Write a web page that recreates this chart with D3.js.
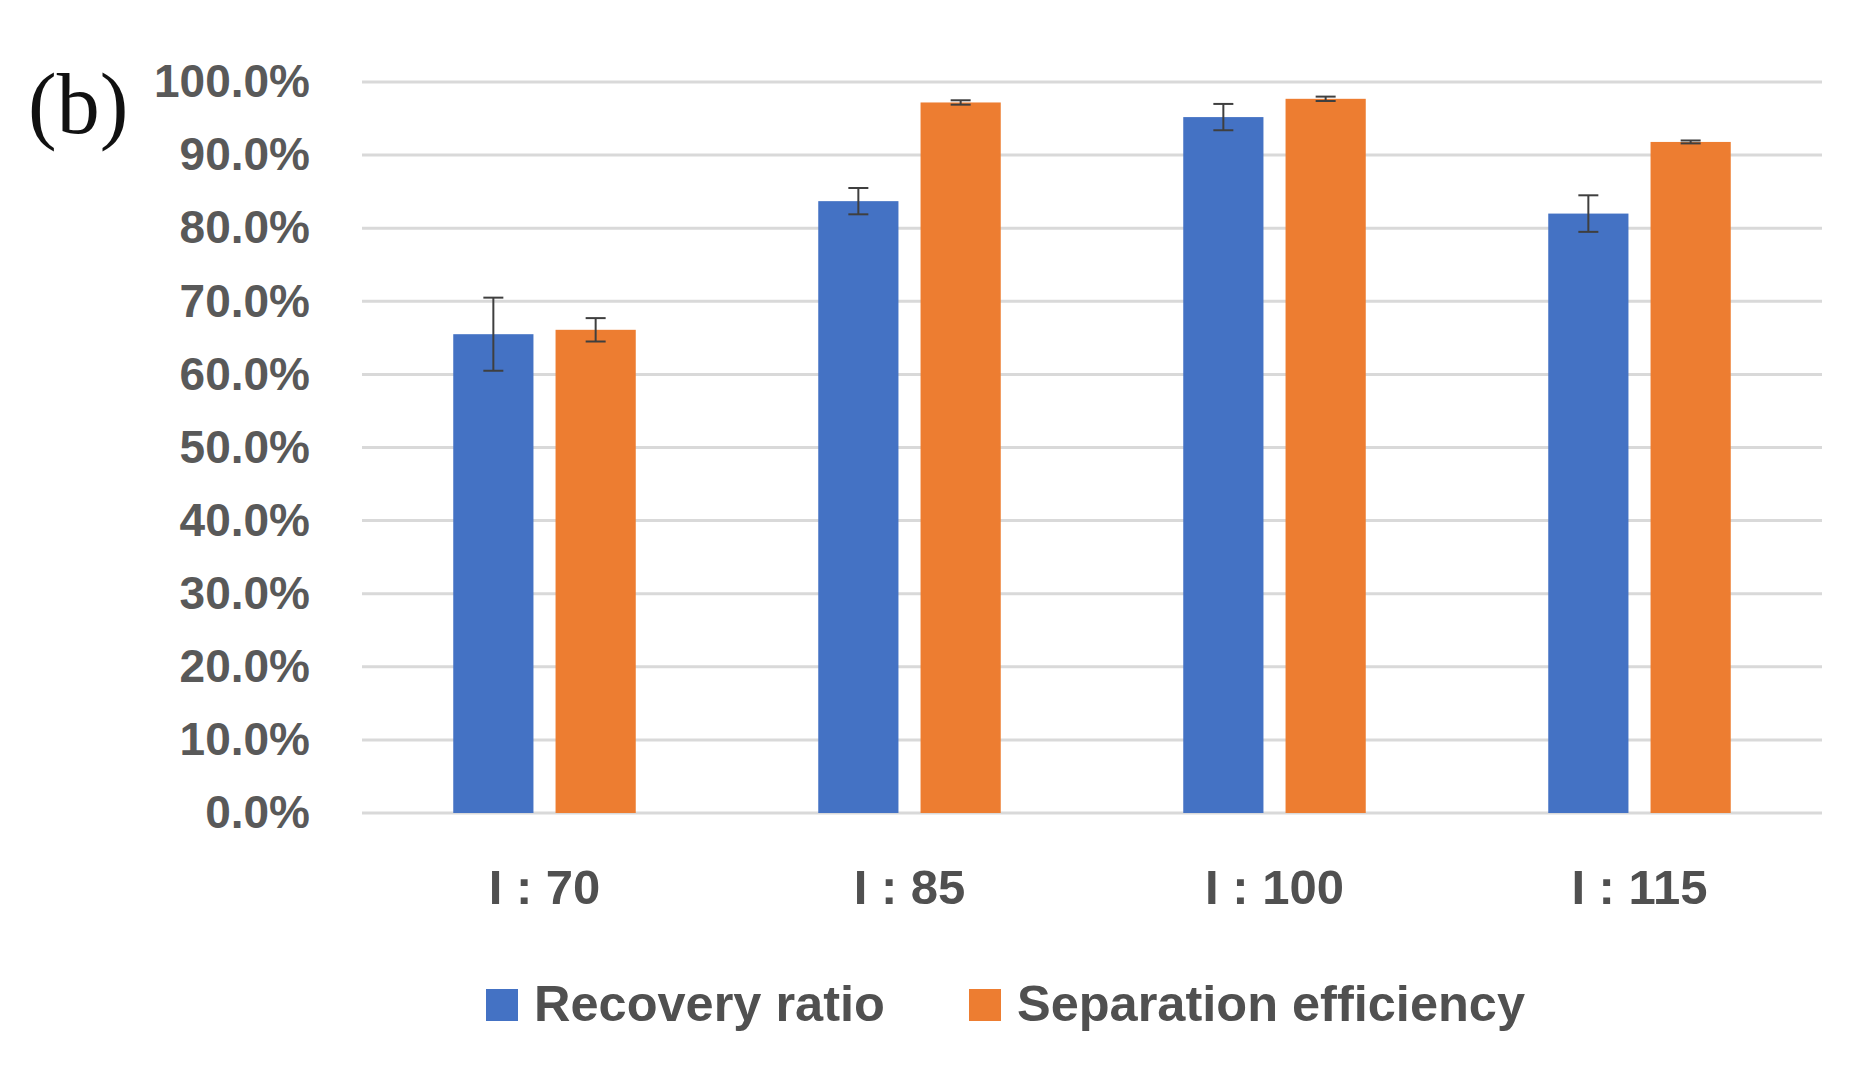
<!DOCTYPE html>
<html>
<head>
<meta charset="utf-8">
<script src="https://cdn.jsdelivr.net/npm/d3@7"></script>
<style>
  body { margin: 0; background: #fff; }
  svg { display: block; }
</style>
</head>
<body>
<svg id="chart" width="1870" height="1073"></svg>
<script>
// === DATA ===
const categories = ["I : 70", "I : 85", "I : 100", "I : 115"];
const seriesNames = ["Recovery ratio", "Separation efficiency"];
const recoveryRatio = [0.655, 0.837, 0.952, 0.820];
const recoveryErr = [0.050, 0.018, 0.018, 0.025];
const separationEff = [0.661, 0.972, 0.977, 0.918];
const separationErr = [0.016, 0.003, 0.003, 0.002];
const yTicks = [0, 0.1, 0.2, 0.3, 0.4, 0.5, 0.6, 0.7, 0.8, 0.9, 1.0];

const colors = ["#4472C4", "#ED7D31"];

// === SETUP ===
const svg = d3.select("#chart");
const margin = { top: 82, right: 48, bottom: 260, left: 362 };
const width = +svg.attr("width");
const height = +svg.attr("height");
const plotWidth = width - margin.left - margin.right;
const plotHeight = height - margin.top - margin.bottom;

const g = svg.append("g").attr("transform", `translate(${margin.left},${margin.top})`);

const rows = categories.map((c, i) => ({
  cat: c,
  values: [
    { series: seriesNames[0], v: recoveryRatio[i], e: recoveryErr[i] },
    { series: seriesNames[1], v: separationEff[i], e: separationErr[i] }
  ]
}));

// x scales
const x0 = d3.scaleBand().domain(categories).range([0, plotWidth]).padding(0);
const groupWidth = x0.bandwidth() * 0.5;
const x1 = d3.scaleBand().domain(seriesNames).range([0, groupWidth]).paddingInner(0.216).paddingOuter(0);

const y = d3.scaleLinear().domain([0, 1]).range([plotHeight, 0]);

// gridlines
g.append("g")
  .selectAll("line")
  .data(yTicks)
  .enter()
  .append("line")
  .attr("x1", 0)
  .attr("x2", plotWidth)
  .attr("y1", d => y(d))
  .attr("y2", d => y(d))
  .attr("stroke", "#d9d9d9")
  .attr("stroke-width", 3);

// y axis labels
const yAxis = d3.axisLeft(y).tickValues(yTicks).tickFormat(d3.format(".1%")).tickSize(0).tickPadding(52);
g.append("g")
  .call(yAxis)
  .call(s => s.select(".domain").remove())
  .selectAll("text")
  .attr("fill", "#595959")
  .style("font-family", "'Liberation Sans', Arial, sans-serif")
  .style("font-weight", "bold")
  .style("font-size", "46px");

// bars
const groups = g.selectAll(".grp")
  .data(rows)
  .enter()
  .append("g")
  .attr("transform", d => `translate(${x0(d.cat) + (x0.bandwidth() - groupWidth) / 2},0)`);

groups.selectAll("rect")
  .data(d => d.values)
  .enter()
  .append("rect")
  .attr("x", d => x1(d.series))
  .attr("y", d => y(d.v))
  .attr("width", x1.bandwidth())
  .attr("height", d => y(0) - y(d.v))
  .attr("fill", (d, i) => colors[i]);

// error bars
const capW = 10;
const eb = groups.selectAll(".err")
  .data(d => d.values)
  .enter()
  .append("g")
  .attr("stroke", "#3f3f3f")
  .attr("stroke-width", 2);

eb.append("line")
  .attr("x1", d => x1(d.series) + x1.bandwidth() / 2)
  .attr("x2", d => x1(d.series) + x1.bandwidth() / 2)
  .attr("y1", d => y(d.v + d.e))
  .attr("y2", d => y(d.v - d.e));
eb.append("line")
  .attr("x1", d => x1(d.series) + x1.bandwidth() / 2 - capW)
  .attr("x2", d => x1(d.series) + x1.bandwidth() / 2 + capW)
  .attr("y1", d => y(d.v + d.e))
  .attr("y2", d => y(d.v + d.e));
eb.append("line")
  .attr("x1", d => x1(d.series) + x1.bandwidth() / 2 - capW)
  .attr("x2", d => x1(d.series) + x1.bandwidth() / 2 + capW)
  .attr("y1", d => y(d.v - d.e))
  .attr("y2", d => y(d.v - d.e));

// x axis labels
const xAxis = d3.axisBottom(x0).tickSize(0).tickPadding(56);
g.append("g")
  .attr("transform", `translate(0,${plotHeight})`)
  .call(xAxis)
  .call(s => s.select(".domain").remove())
  .selectAll("text")
  .attr("fill", "#505050")
  .style("font-family", "'Liberation Sans', Arial, sans-serif")
  .style("font-weight", "bold")
  .style("font-size", "49px");

// legend
const legendX = [486, 969];
const legend = svg.append("g");
seriesNames.forEach((name, i) => {
  legend.append("rect")
    .attr("x", legendX[i])
    .attr("y", 989)
    .attr("width", 32)
    .attr("height", 32)
    .attr("fill", colors[i]);
  legend.append("text")
    .attr("x", legendX[i] + 48)
    .attr("y", 1021)
    .attr("fill", "#505050")
    .style("font-family", "'Liberation Sans', Arial, sans-serif")
    .style("font-weight", "bold")
    .style("font-size", "50.5px")
    .text(name);
});

// panel label
svg.append("text")
  .attr("x", 28)
  .attr("y", 133)
  .attr("fill", "#111")
  .style("font-family", "'Liberation Serif', 'Times New Roman', serif")
  .style("font-size", "86px")
  .text("(b)");
</script>
</body>
</html>
